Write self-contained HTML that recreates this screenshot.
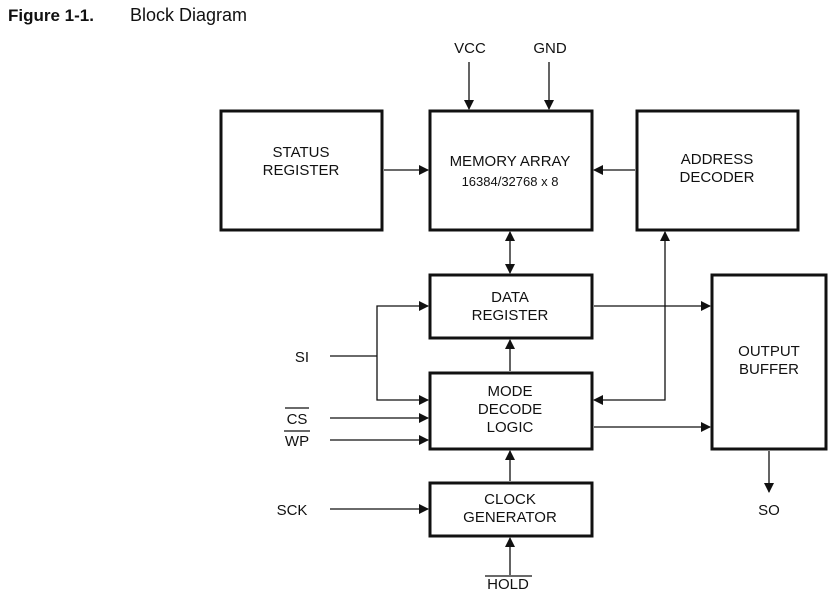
<!DOCTYPE html>
<html><head><style>
body{margin:0;background:#fff;}
svg text{font-family:"Liberation Sans",sans-serif;fill:#111;}
</style></head><body>
<svg width="839" height="598" viewBox="0 0 839 598" xmlns="http://www.w3.org/2000/svg">
<defs><marker id="a" markerWidth="10" markerHeight="10" refX="9" refY="5" orient="auto" markerUnits="userSpaceOnUse"><path d="M0,0 L10,5 L0,10 z" fill="#111"/></marker>
<marker id="b" markerWidth="10" markerHeight="10" refX="1" refY="5" orient="auto" markerUnits="userSpaceOnUse"><path d="M10,0 L0,5 L10,10 z" fill="#111"/></marker></defs>
<text x="8" y="21" font-size="17" font-weight="bold">Figure 1-1.</text>
<text x="130" y="21" font-size="18">Block Diagram</text>
<g fill="none" stroke="#111" stroke-width="3">
<rect x="221" y="111" width="161" height="119"/>
<rect x="430" y="111" width="162" height="119"/>
<rect x="637" y="111" width="161" height="119"/>
<rect x="430" y="275" width="162" height="63"/>
<rect x="430" y="373" width="162" height="76"/>
<rect x="430" y="483" width="162" height="53"/>
<rect x="712" y="275" width="114" height="174"/>
</g>
<g stroke="#111" stroke-width="1.3" fill="none">
<line x1="469" y1="62" x2="469" y2="109" marker-end="url(#a)"/>
<line x1="549" y1="62" x2="549" y2="109" marker-end="url(#a)"/>
<line x1="384" y1="170" x2="428" y2="170" marker-end="url(#a)"/>
<line x1="635" y1="170" x2="594" y2="170" marker-end="url(#a)"/>
<line x1="510" y1="232" x2="510" y2="273" marker-start="url(#b)" marker-end="url(#a)"/>
<line x1="594" y1="306" x2="710" y2="306" marker-end="url(#a)"/>
<polyline points="665,232 665,400 594,400" marker-start="url(#b)" marker-end="url(#a)"/>
<line x1="594" y1="427" x2="710" y2="427" marker-end="url(#a)"/>
<line x1="330" y1="356" x2="377" y2="356"/>
<polyline points="428,306 377,306 377,400 428,400" marker-start="url(#b)" marker-end="url(#a)"/>
<line x1="330" y1="418" x2="428" y2="418" marker-end="url(#a)"/>
<line x1="330" y1="440" x2="428" y2="440" marker-end="url(#a)"/>
<line x1="330" y1="509" x2="428" y2="509" marker-end="url(#a)"/>
<line x1="510" y1="371" x2="510" y2="340" marker-end="url(#a)"/>
<line x1="510" y1="481" x2="510" y2="451" marker-end="url(#a)"/>
<line x1="510" y1="575" x2="510" y2="538" marker-end="url(#a)"/>
<line x1="769" y1="451" x2="769" y2="492" marker-end="url(#a)"/>
<line x1="285" y1="408" x2="309" y2="408"/>
<line x1="284" y1="431" x2="310" y2="431"/>
<line x1="485" y1="576" x2="532" y2="576"/>
</g>
<g font-size="15" text-anchor="middle">
<text x="470" y="53">VCC</text><text x="550" y="53">GND</text>
<text x="301" y="157">STATUS</text><text x="301" y="175">REGISTER</text>
<text x="510" y="166">MEMORY ARRAY</text><text x="510" y="186" font-size="13">16384/32768 x 8</text>
<text x="717" y="164">ADDRESS</text><text x="717" y="182">DECODER</text>
<text x="510" y="302">DATA</text><text x="510" y="320">REGISTER</text>
<text x="510" y="396">MODE</text><text x="510" y="414">DECODE</text><text x="510" y="432">LOGIC</text>
<text x="510" y="504">CLOCK</text><text x="510" y="522">GENERATOR</text>
<text x="769" y="356">OUTPUT</text><text x="769" y="374">BUFFER</text>
<text x="302" y="362">SI</text>
<text x="297" y="424">CS</text><text x="297" y="446">WP</text>
<text x="292" y="515">SCK</text>
<text x="769" y="515">SO</text>
<text x="508" y="589">HOLD</text>
</g>
</svg>
</body></html>
